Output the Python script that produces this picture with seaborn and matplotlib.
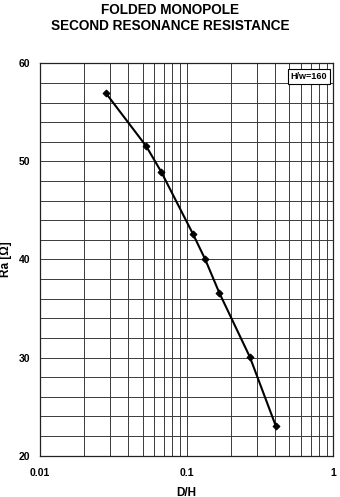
import matplotlib
matplotlib.use("Agg")
import matplotlib.pyplot as plt
import seaborn as sns
import numpy as np
import pandas as pd
from matplotlib.ticker import LogLocator, MultipleLocator, FixedLocator, NullFormatter

# Data
d_over_h = [0.028, 0.053, 0.067, 0.11, 0.1335, 0.167, 0.27, 0.405]
ra_ohm = [57.0, 51.55, 48.95, 42.65, 40.05, 36.6, 30.05, 23.05]
x_ticks = [0.01, 0.1, 1]
x_tick_labels = ["0.01", "0.1", "1"]
y_ticks = [20, 30, 40, 50, 60]
title_text = "FOLDED MONOPOLE\nSECOND RESONANCE RESISTANCE"
legend_text = "H/w=160"

sns.set_style("white")
plt.rcParams['font.family'] = ['Liberation Sans', 'DejaVu Sans']
plt.rcParams['font.weight'] = 'bold'
for k in ['text.color', 'axes.labelcolor', 'xtick.color', 'ytick.color']:
    plt.rcParams[k] = 'black'

df = pd.DataFrame({"D/H": d_over_h, "Ra": ra_ohm})

fig = plt.figure(figsize=(3.4, 4.97), dpi=100)
ax = fig.add_axes([40/340, 1 - 455.7/497, (333.3 - 40)/340, (455.7 - 63.3)/497])

sns.lineplot(data=df, x="D/H", y="Ra", ax=ax, color="black", linewidth=1.5,
             marker="D", markersize=3.5, markeredgecolor="black", zorder=5)

ax.set_xscale("log")
ax.set_xlim(0.01, 1)
ax.set_ylim(20, 60)

ax.xaxis.set_major_locator(FixedLocator(x_ticks))
ax.set_xticklabels(x_tick_labels)
ax.xaxis.set_minor_locator(LogLocator(base=10, subs=np.arange(2, 10)))
ax.xaxis.set_minor_formatter(NullFormatter())
ax.yaxis.set_major_locator(FixedLocator(y_ticks))
ax.yaxis.set_minor_locator(MultipleLocator(2))

ax.grid(True, which="both", color="#3a3a3a", linewidth=0.7)
ax.tick_params(axis="both", which="both", length=0, labelsize=7.5, colors="black")
ax.tick_params(axis="x", pad=9)
ax.tick_params(axis="y", pad=7)
for lbl in ax.get_xticklabels() + ax.get_yticklabels():
    lbl.set_fontweight("bold")

for s in ax.spines.values():
    s.set_color("#222222")
    s.set_linewidth(0.9)

ax.set_xlabel("D/H", fontsize=8.5, fontweight="bold", labelpad=6, color="black")
ax.set_ylabel("Ra [Ω]", fontsize=8.5, fontweight="bold", labelpad=5, color="black")

fig.text(0.5, 1 - 18/497, title_text, ha="center", va="center", color="black",
         fontsize=9.8, fontweight="bold", linespacing=1.2)

ax.text(0.978, 0.978, legend_text, transform=ax.transAxes, ha="right", va="top",
        fontsize=6.5, fontweight="bold", zorder=10, color="black",
        bbox=dict(boxstyle="square,pad=0.3", facecolor="white", edgecolor="black", linewidth=0.8))

fig.savefig("out.png", dpi=100)
